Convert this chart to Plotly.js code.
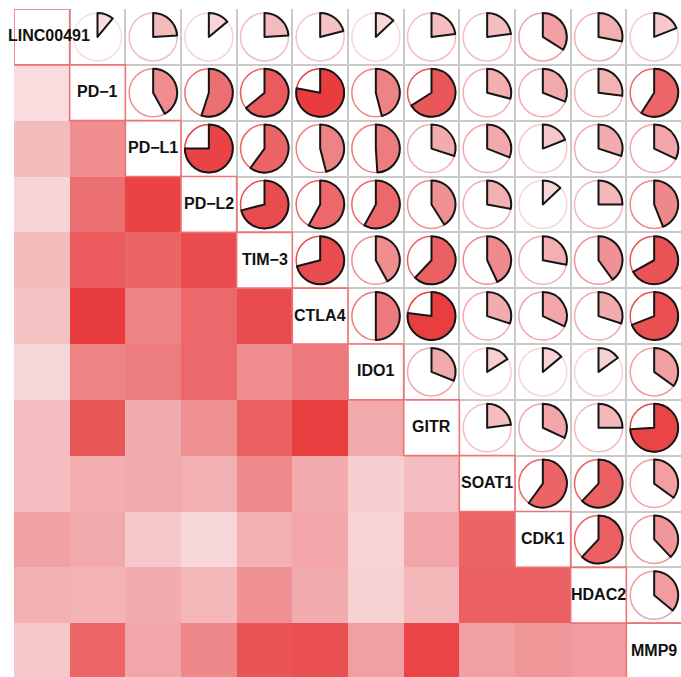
<!DOCTYPE html>
<html><head><meta charset="utf-8">
<script src="https://cdn.plot.ly/plotly-3.0.1.min.js"></script>
<style>html,body{margin:0;padding:0;overflow:hidden;background:#fff}</style>
</head><body><div id="chart"></div>
<script>
// Variables (diagonal labels)
const genes = ["LINC00491","PD\u22121","PD\u2212L1","PD\u2212L2","TIM\u22123","CTLA4","IDO1","GITR","SOAT1","CDK1","HDAC2","MMP9"];

// Correlations, upper triangle rows (values to the right of the diagonal)
const r_LINC00491 = [0.11, 0.24, 0.14, 0.24, 0.21, 0.13, 0.23, 0.23, 0.34, 0.28, 0.19];
const r_PD1       = [0.42, 0.55, 0.64, 0.78, 0.46, 0.66, 0.29, 0.31, 0.27, 0.59];
const r_PDL1      = [0.75, 0.60, 0.46, 0.49, 0.30, 0.31, 0.19, 0.30, 0.32];
const r_PDL2      = [0.71, 0.58, 0.58, 0.41, 0.28, 0.13, 0.25, 0.44];
const r_TIM3      = [0.71, 0.42, 0.62, 0.43, 0.28, 0.40, 0.67];
const r_CTLA4     = [0.50, 0.77, 0.30, 0.32, 0.30, 0.69];
const r_IDO1      = [0.31, 0.16, 0.14, 0.15, 0.35];
const r_GITR      = [0.23, 0.32, 0.25, 0.74];
const r_SOAT1     = [0.60, 0.62, 0.35];
const r_CDK1      = [0.62, 0.38];
const r_HDAC2     = [0.36];
const r_MMP9      = [];

const upperRows = [r_LINC00491, r_PD1, r_PDL1, r_PDL2, r_TIM3, r_CTLA4, r_IDO1, r_GITR, r_SOAT1, r_CDK1, r_HDAC2, r_MMP9];

// colour ramp (style)
const colorStops = [[0,'#FFFFFF'],[0.13,'#F8D7D8'],[0.34,'#F1A1A4'],[0.46,'#EE8385'],[0.78,'#E83C3E'],[1,'#E40F12']];

function hexToRgb(h){return [parseInt(h.slice(1,3),16),parseInt(h.slice(3,5),16),parseInt(h.slice(5,7),16)];}
function colorFor(v){
  v = Math.max(0, Math.min(1, Math.abs(v)));
  for (let k=1;k<colorStops.length;k++){
    if (v <= colorStops[k][0]){
      const a = colorStops[k-1], b = colorStops[k];
      const t = (v - a[0])/(b[0]-a[0]);
      const ca = hexToRgb(a[1]), cb = hexToRgb(b[1]);
      const c = ca.map((x,m)=>Math.round(x + (cb[m]-x)*t));
      return 'rgb('+c.join(',')+')';
    }
  }
  return colorStops[colorStops.length-1][1];
}

const n = genes.length;
const corr = [];
for (let i=0;i<n;i++){ corr.push(new Array(n).fill(1)); }
for (let i=0;i<n;i++){
  upperRows[i].forEach((v,k)=>{ const j=i+1+k; corr[i][j]=v; corr[j][i]=v; });
}

const idx = genes.map((g,i)=>i);
const zLower = idx.map(i => idx.map(j => (i>j ? corr[i][j] : null)));

const traces = [{
  type:'heatmap', x: idx, y: idx, z: zLower,
  colorscale: colorStops, zmin:0, zmax:1, showscale:false, hoverinfo:'skip', xgap:0, ygap:0
}];

const pad = 0.069;
for (let i=0;i<n;i++){
  for (let j=i+1;j<n;j++){
    const v = corr[i][j];
    const col = colorFor(v);
    const dom = {x:[(j+pad)/n,(j+1-pad)/n], y:[1-(i+1-pad)/n, 1-(i+pad)/n]};
    traces.push({
      type:'pie', values:[1], labels:['ring'], domain:dom, sort:false,
      marker:{colors:['rgba(0,0,0,0)'], line:{color:col, width:1.5}},
      textinfo:'none', hoverinfo:'skip', showlegend:false
    });
    traces.push({
      type:'pie', values:[v, 1-v], labels:['r','rest'], domain:dom, sort:false,
      direction:'clockwise', rotation:0,
      marker:{colors:[col,'rgba(0,0,0,0)'], line:{color:['#151515','rgba(0,0,0,0)'], width:2}},
      textinfo:'none', hoverinfo:'skip', showlegend:false
    });
  }
}

const shapes = idx.map(i => ({
  type:'rect', xref:'x', yref:'y', x0:i-0.5, x1:i+0.5, y0:i-0.5, y1:i+0.5,
  fillcolor:'#FFFFFF', line:{color:'#EF7375', width:1.6}, layer:'above'
}));

const annotations = idx.map(i => ({
  x:i, y:i, xref:'x', yref:'y', text:genes[i], showarrow:false,
  xanchor:'center', yanchor:'middle', xshift: (i===0?7:0), yshift:1,
  font:{family:'Liberation Sans, Arial, sans-serif', size:16, color:'#111111', weight:'bold'}
}));

const halves = [];
for (let k=0;k<=n;k++) halves.push(k-0.5);

const axisBase = {
  tickvals: halves, showticklabels:false, ticks:'', showgrid:true,
  gridcolor:'#C9C9C9', gridwidth:2, zeroline:false, showline:false, fixedrange:true
};

const layout = {
  width:684, height:681,
  margin:{l:14, r:2, t:9, b:2, pad:0},
  paper_bgcolor:'#FFFFFF', plot_bgcolor:'#FFFFFF',
  showlegend:false,
  xaxis: Object.assign({}, axisBase, {range:[-0.5, n-0.5]}),
  yaxis: Object.assign({}, axisBase, {range:[n-0.5, -0.5]}),
  shapes: shapes,
  annotations: annotations
};

Plotly.newPlot('chart', traces, layout, {staticPlot:true, displayModeBar:false});
</script>
</body></html>
